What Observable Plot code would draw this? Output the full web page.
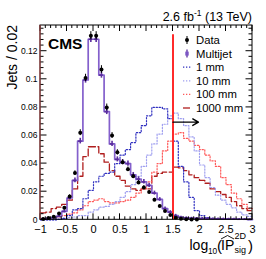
<!DOCTYPE html>
<html><head><meta charset="utf-8">
<script src="https://cdn.jsdelivr.net/npm/d3@7"></script>
<script src="https://cdn.jsdelivr.net/npm/@observablehq/plot@0.6"></script>
<style>
body{margin:0;background:#fff;}
#chart{width:266px;height:259px;}
</style></head><body><div id="chart"></div>
<script>
// ---- data ----
const binLow = [-1.0,-0.9,-0.8,-0.7,-0.6,-0.5,-0.4,-0.3,-0.2,-0.1,0.0,0.1,0.2,0.3,0.4,0.5,0.6,0.7,0.8,0.9,
                1.0,1.1,1.2,1.3,1.4,1.5,1.6,1.7,1.8,1.9,2.0,2.1,2.2,2.3,2.4,2.5,2.6,2.7,2.8,2.9];
const binWidth = 0.1;
const dataVals = [0.0005,0.0012,0.0022,0.0045,0.0086,0.0166,0.0333,0.062,0.101,0.131,0.131,0.107,0.080,0.060,0.048,0.041,0.036,0.031,0.0265,0.023,
                  0.0197,0.0143,0.0098,0.0062,0.0035,0.0015,0.0008,0.0004,0.0003,0.0002,0,0,0,0,0,0,0,0,0,0];
const dataErr = [0.0003,0.0004,0.0005,0.0007,0.0009,0.0012,0.0016,0.0021,0.0026,0.0029,0.0029,0.0027,0.0024,0.0021,0.0019,0.0017,0.0016,0.0015,0.0014,0.0013,
                 0.0012,0.0010,0.0009,0.0007,0.0005,0.0004,0.0003,0.0002,0.0002,0.0001,0,0,0,0,0,0,0,0,0,0];
const multijet = [0.0006,0.001,0.0015,0.0025,0.006,0.0155,0.028,0.056,0.0995,0.1285,0.1285,0.103,0.077,0.054,0.043,0.041,0.040,0.032,0.029,0.027,
                  0.0245,0.019,0.0145,0.008,0.0055,0.003,0.0018,0.0013,0.0011,0.001,0.0009,0.0008,0.0007,0.0006,0.0006,0.0005,0.0005,0.0004,0.0004,0.0003];
const multijetErr = [0.0006,0.0007,0.0008,0.0009,0.0011,0.0014,0.0017,0.0020,0.0022,0.0023,0.0023,0.0022,0.0021,0.0019,0.0018,0.0018,0.0018,0.0017,0.0016,0.0016,
                     0.0015,0.0014,0.0013,0.0011,0.0010,0.0009,0.0008,0.0008,0.0007,0.0007,0.0007,0.0007,0.0006,0.0006,0.0006,0.0006,0.0006,0.0005,0.0005,0.0005];
const sig1mm = [0,0,0,0.0003,0.001,0.003,0.007,0.008,0.015,0.021,0.027,0.031,0.033,0.034,0.040,0.046,0.050,0.055,0.062,0.067,
                0.074,0.080,0.080,0.079,0.072,0.056,0.038,0.027,0.016,0.0066,0.003,0.0015,0.001,0.0007,0.0005,0.0004,0.0003,0.0002,0.0002,0.0001];
const sig10mm = [0,0,0,0.0005,0.001,0.0015,0.002,0.003,0.003,0.0055,0.007,0.009,0.0095,0.011,0.013,0.016,0.020,0.025,0.031,0.038,
                 0.046,0.054,0.061,0.068,0.074,0.076,0.072,0.067,0.059,0.049,0.039,0.030,0.023,0.0175,0.014,0.011,0.0085,0.0055,0.0035,0.0025];
const sig100mm = [0.0007,0.001,0.0015,0.002,0.003,0.004,0.005,0.007,0.010,0.013,0.014,0.015,0.013,0.012,0.012,0.013,0.014,0.016,0.019,0.022,
                  0.027,0.034,0.040,0.049,0.056,0.061,0.062,0.058,0.056,0.053,0.050,0.046,0.042,0.038,0.030,0.025,0.019,0.015,0.011,0.008];
const sig1000mm = [0.005,0.0055,0.008,0.009,0.011,0.014,0.022,0.031,0.045,0.052,0.052,0.047,0.041,0.035,0.031,0.028,0.024,0.022,0.021,0.022,
                   0.022,0.031,0.033,0.034,0.034,0.0375,0.037,0.035,0.032,0.030,0.028,0.026,0.022,0.020,0.018,0.016,0.013,0.010,0.008,0.0065];
const cutValue = 1.5;
const cutTop = 0.1317;
const arrowEnd = 1.98;
const arrowY = 0.0695;
const xTicks = [-1,-0.5,0,0.5,1,1.5,2,2.5,3];
const yTicks = [0,0.02,0.04,0.06,0.08,0.1,0.12];
const legendLabels = ["Data","Multijet","1 mm","10 mm","100 mm","1000 mm"];

// ---- helpers ----
const FONT = "Liberation Sans, Arial, Helvetica, sans-serif";
function steps(vals){
  const pts = binLow.map((x,i)=>({x, y: vals[i]}));
  pts.push({x: binLow[binLow.length-1] + binWidth, y: vals[vals.length-1]});
  return pts;
}
const centers = binLow.map(x => x + binWidth/2);
const dataPts = centers.map((c,i)=>({c, v: dataVals[i], e: dataErr[i]})).filter(d => d.v > 0);
const mjPts = centers.map((c,i)=>({c, v: multijet[i], e: multijetErr[i]}));

const styles = {
  m1000: {stroke:"#b01e1e", strokeWidth:1.3, strokeDasharray:"7,2.5"},
  m100: {stroke:"#ff5a5a", strokeWidth:1.2, strokeDasharray:"1.3,1.7"},
  m10: {stroke:"#a0a0f0", strokeWidth:1.2, strokeDasharray:"1.3,1.7"},
  m1: {stroke:"#3030c0", strokeWidth:1.2, strokeDasharray:"1.3,1.7"},
};

const plot = Plot.plot({
  width: 266, height: 259,
  marginLeft: 40, marginRight: 14, marginTop: 25, marginBottom: 39.7,
  x: {domain: [-1, 3]},
  y: {domain: [0, 0.1383]},
  style: {fontFamily: FONT, background: "white", overflow: "visible"},
  marks: [
    Plot.line(steps(sig1000mm), {x:"x", y:"y", curve:"step-after", ...styles.m1000}),
    Plot.line(steps(sig100mm), {x:"x", y:"y", curve:"step-after", ...styles.m100}),
    Plot.line(steps(sig10mm), {x:"x", y:"y", curve:"step-after", ...styles.m10}),
    Plot.line(steps(sig1mm), {x:"x", y:"y", curve:"step-after", ...styles.m1}),
    Plot.line(steps(multijet), {x:"x", y:"y", curve:"step-after", stroke:"#8460cc", strokeWidth:1.7}),
    Plot.ruleY(mjPts, {y:"v", x1: d => d.c - 0.035, x2: d => d.c + 0.035, stroke:"#5a2d9e", strokeWidth:1.6}),
    Plot.ruleX(mjPts, {x:"c", y1: d => d.v - d.e, y2: d => d.v + d.e, stroke:"#5a2d9e", strokeWidth:1.6}),
    Plot.ruleX(dataPts, {x:"c", y1: d => d.v - d.e, y2: d => d.v + d.e, stroke:"black", strokeWidth:1}),
    Plot.dot(dataPts, {x:"c", y:"v", r:2, fill:"black", stroke:"none"}),
    Plot.ruleX([cutValue], {y1: 0, y2: cutTop, stroke:"#ff2b2b", strokeWidth:2}),
    Plot.arrow([{x1: cutValue, x2: arrowEnd, y: arrowY}], {x1:"x1", x2:"x2", y1:"y", y2:"y", stroke:"black", strokeWidth:1.4, headLength:7}),
    Plot.axisX({ticks: xTicks, tickSize: 0, tickPadding: 5, fontSize: 11, label: null,
      tickFormat: d => d < 0 ? "\u2212" + Math.abs(d) : String(d)}),
    Plot.axisY({ticks: yTicks, tickSize: 0, tickPadding: 3, fontSize: 8.5, label: null,
      tickFormat: d => d === 0 ? "0" : String(+d.toFixed(2))})
  ]
});
document.getElementById("chart").appendChild(plot);

// ---- frame, ticks, texts (overlay through the plot's scales) ----
const svg = d3.select(plot);
const sx = plot.scale("x"), sy = plot.scale("y");
const X = v => sx.apply(v), Y = v => sy.apply(v);
const x0 = X(-1), x1 = X(3), y0 = Y(0), y1 = Y(0.1383);
const g = svg.append("g");
const ln = (a,b,c,d,col,w) => g.append("line").attr("x1",a).attr("y1",b).attr("x2",c).attr("y2",d).attr("stroke",col).attr("stroke-width",w||1);
const xMinor = d3.range(-1, 3.0001, 0.1);
xMinor.forEach((v,i) => {
  const L = i % 5 === 0 ? 6 : 3;
  ln(X(v), y0, X(v), y0 - L, "black");
  ln(X(v), y1, X(v), y1 + L, "black");
});
const yMinor = d3.range(0, 0.1383, 0.004);
yMinor.forEach((v,i) => {
  const L = i % 5 === 0 ? 6.5 : 3.5;
  ln(x0, Y(v), x0 + L, Y(v), "black");
  ln(x1, Y(v), x1 - L, Y(v), "black");
});
g.append("rect").attr("x", x0).attr("y", y1).attr("width", x1 - x0).attr("height", y0 - y1)
  .attr("fill","none").attr("stroke","black").attr("stroke-width",1);
ln(x0, y0, x0, y1, "#a04848", 1.2);

const T = svg.append("g").attr("text-anchor","start").attr("font-family", FONT).attr("fill","black");

// title
const t = T.append("text").attr("x", x1).attr("y", 21).attr("text-anchor","end").attr("font-size", 12.5);
t.append("tspan").text("2.6 fb");
t.append("tspan").attr("dy", -5).attr("font-size", 8.5).text("-1");
t.append("tspan").attr("dy", 5).text(" (13 TeV)");

T.append("text").attr("x", 48).attr("y", 49).attr("font-size", 15.5).attr("font-weight","bold").text("CMS");

// y title
T.append("text").attr("transform", "translate(17," + y1 + ") rotate(-90)")
  .attr("text-anchor","end").attr("font-size", 14).text("Jets / 0.02");

// x title
const tx = (x,y,s,txt) => T.append("text").attr("x",x).attr("y",y).attr("font-size",s).text(txt);
tx(189.5, 250, 14, "log");
tx(208, 254, 8.3, "10");
tx(217, 251, 15, "(");
tx(221, 250, 14, "IP");
T.append("path").attr("d","M221,239 L227.5,235.5 L234,239").attr("fill","none").attr("stroke","black").attr("stroke-width",0.9);
tx(234.5, 238.5, 9, "2D");
tx(234.5, 253, 9, "sig");
tx(248, 251, 15, ")");

// legend
const lg = svg.append("g");
const lx = 183, lx2 = 191, ltx = 196, ly0 = 40, lstep = 13.6;
legendLabels.forEach((lab,i) => {
  const yy = ly0 + i*lstep;
  if (i === 0) {
    lg.append("line").attr("x1",187).attr("x2",187).attr("y1",yy-4).attr("y2",yy+4).attr("stroke","black");
    lg.append("circle").attr("cx",187).attr("cy",yy).attr("r",2).attr("fill","black");
  } else if (i === 1) {
    lg.append("line").attr("x1",187).attr("x2",187).attr("y1",yy-4).attr("y2",yy+4).attr("stroke","#5a2d9e").attr("stroke-width",1.3);
    lg.append("rect").attr("x",185.3).attr("y",yy-2).attr("width",3.4).attr("height",4).attr("fill","#7b55c4");
  } else {
    const st = [null,null,styles.m1,styles.m10,styles.m100,styles.m1000][i];
    lg.append("line").attr("x1",lx).attr("x2",lx2).attr("y1",yy).attr("y2",yy)
      .attr("stroke",st.stroke).attr("stroke-width",st.strokeWidth).attr("stroke-dasharray",st.strokeDasharray);
  }
  T.append("text").attr("x",ltx).attr("y",yy+4).attr("font-size",11.3).text(lab);
});
</script>
</body></html>
